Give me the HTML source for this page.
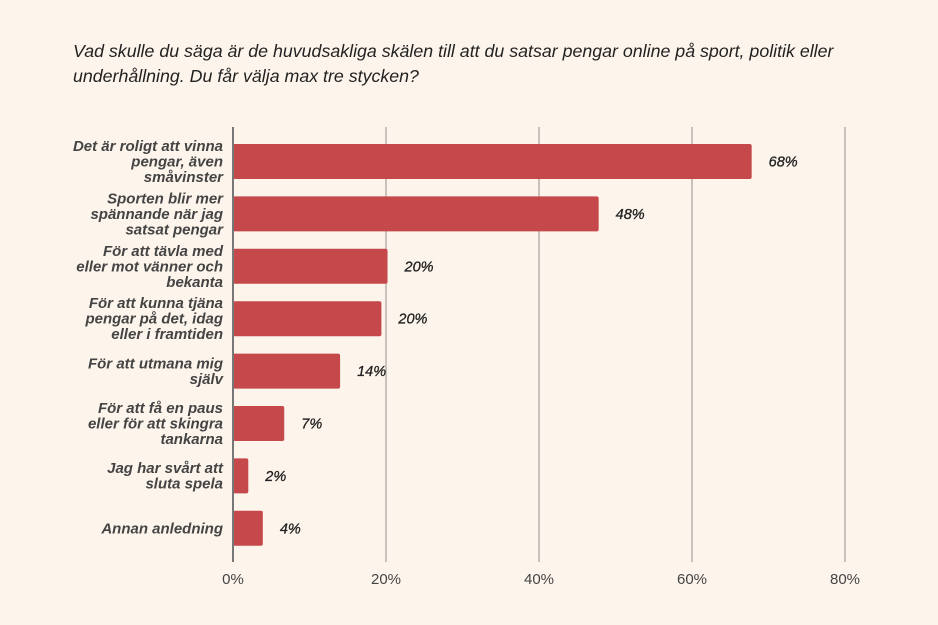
<!DOCTYPE html>
<html><head><meta charset="utf-8"><style>
body{margin:0;background:#fdf5ec;}
svg{display:block;font-family:"Liberation Sans",sans-serif;}
</style></head><body>
<svg width="938" height="625" viewBox="0 0 938 625">
<rect width="938" height="625" fill="#fdf5ec"/>
<text x="73" y="57" font-size="17.8" font-style="italic" fill="#222">Vad skulle du säga är de huvudsakliga skälen till att du satsar pengar online på sport, politik eller</text>
<text x="73" y="82" font-size="17.8" font-style="italic" fill="#222">underhållning. Du får välja max tre stycken?</text>
<g id="grid"></g><g id="bars"></g>
</svg>
<script>
const categories=[["Det är roligt att vinna","pengar, även","småvinster"],["Sporten blir mer","spännande när jag","satsat pengar"],["För att tävla med","eller mot vänner och","bekanta"],["För att kunna tjäna","pengar på det, idag","eller i framtiden"],["För att utmana mig","själv"],["För att få en paus","eller för att skingra","tankarna"],["Jag har svårt att","sluta spela"],["Annan anledning"]];
const values=[67.8,47.8,20.2,19.4,14,6.7,2,3.9];
const valueLabels=["68%","48%","20%","20%","14%","7%","2%","4%"];
const ticks=[0,20,40,60,80];
const tickLabels=["0%","20%","40%","60%","80%"];
const NS="http://www.w3.org/2000/svg";
const x=v=>233+v*7.65;
const yTop=i=>144+i*52.4;
const bh=35;
function mk(t,a,p){const e=document.createElementNS(NS,t);for(const k in a)e.setAttribute(k,a[k]);p.appendChild(e);return e;}
const grid=document.getElementById('grid'),bars=document.getElementById('bars');
ticks.forEach((t,i)=>{
  if(t>0){const l=mk('line',{x1:x(t),x2:x(t),y1:127,y2:562,stroke:'#b8b2ac','stroke-width':1.5},grid);
  
  }
  const tx=mk('text',{x:x(t),y:584,'font-size':15,'text-anchor':'middle',fill:'#444'},grid);
  tx.textContent=tickLabels[i];
  
  
});
values.forEach((v,i)=>{
  const y0=yTop(i);
  const r=mk('rect',{x:x(0),y:y0,width:x(v)-x(0),height:bh,rx:2,fill:'#c5494b'},bars);
  
  
  const vl=mk('text',{x:x(v)+17,y:y0+bh/2+5,'font-size':14.5,'font-style':'italic',fill:'#222',stroke:'#222','stroke-width':0.3},bars);
  vl.textContent=valueLabels[i];
  
  
  const lines=categories[i];const lh=15.5;
  const start=y0+bh/2-(lines.length-1)*lh/2+5;
  lines.forEach((s,j)=>{
    const c=mk('text',{x:223,y:start+j*lh,'font-size':15,'font-style':'italic','font-weight':'bold','text-anchor':'end',fill:'#444'},bars);
    c.textContent=s;
    
    
  });
});
const ax=mk('line',{x1:233,x2:233,y1:127,y2:562,stroke:'#777','stroke-width':2},bars);


</script>
</body></html>
